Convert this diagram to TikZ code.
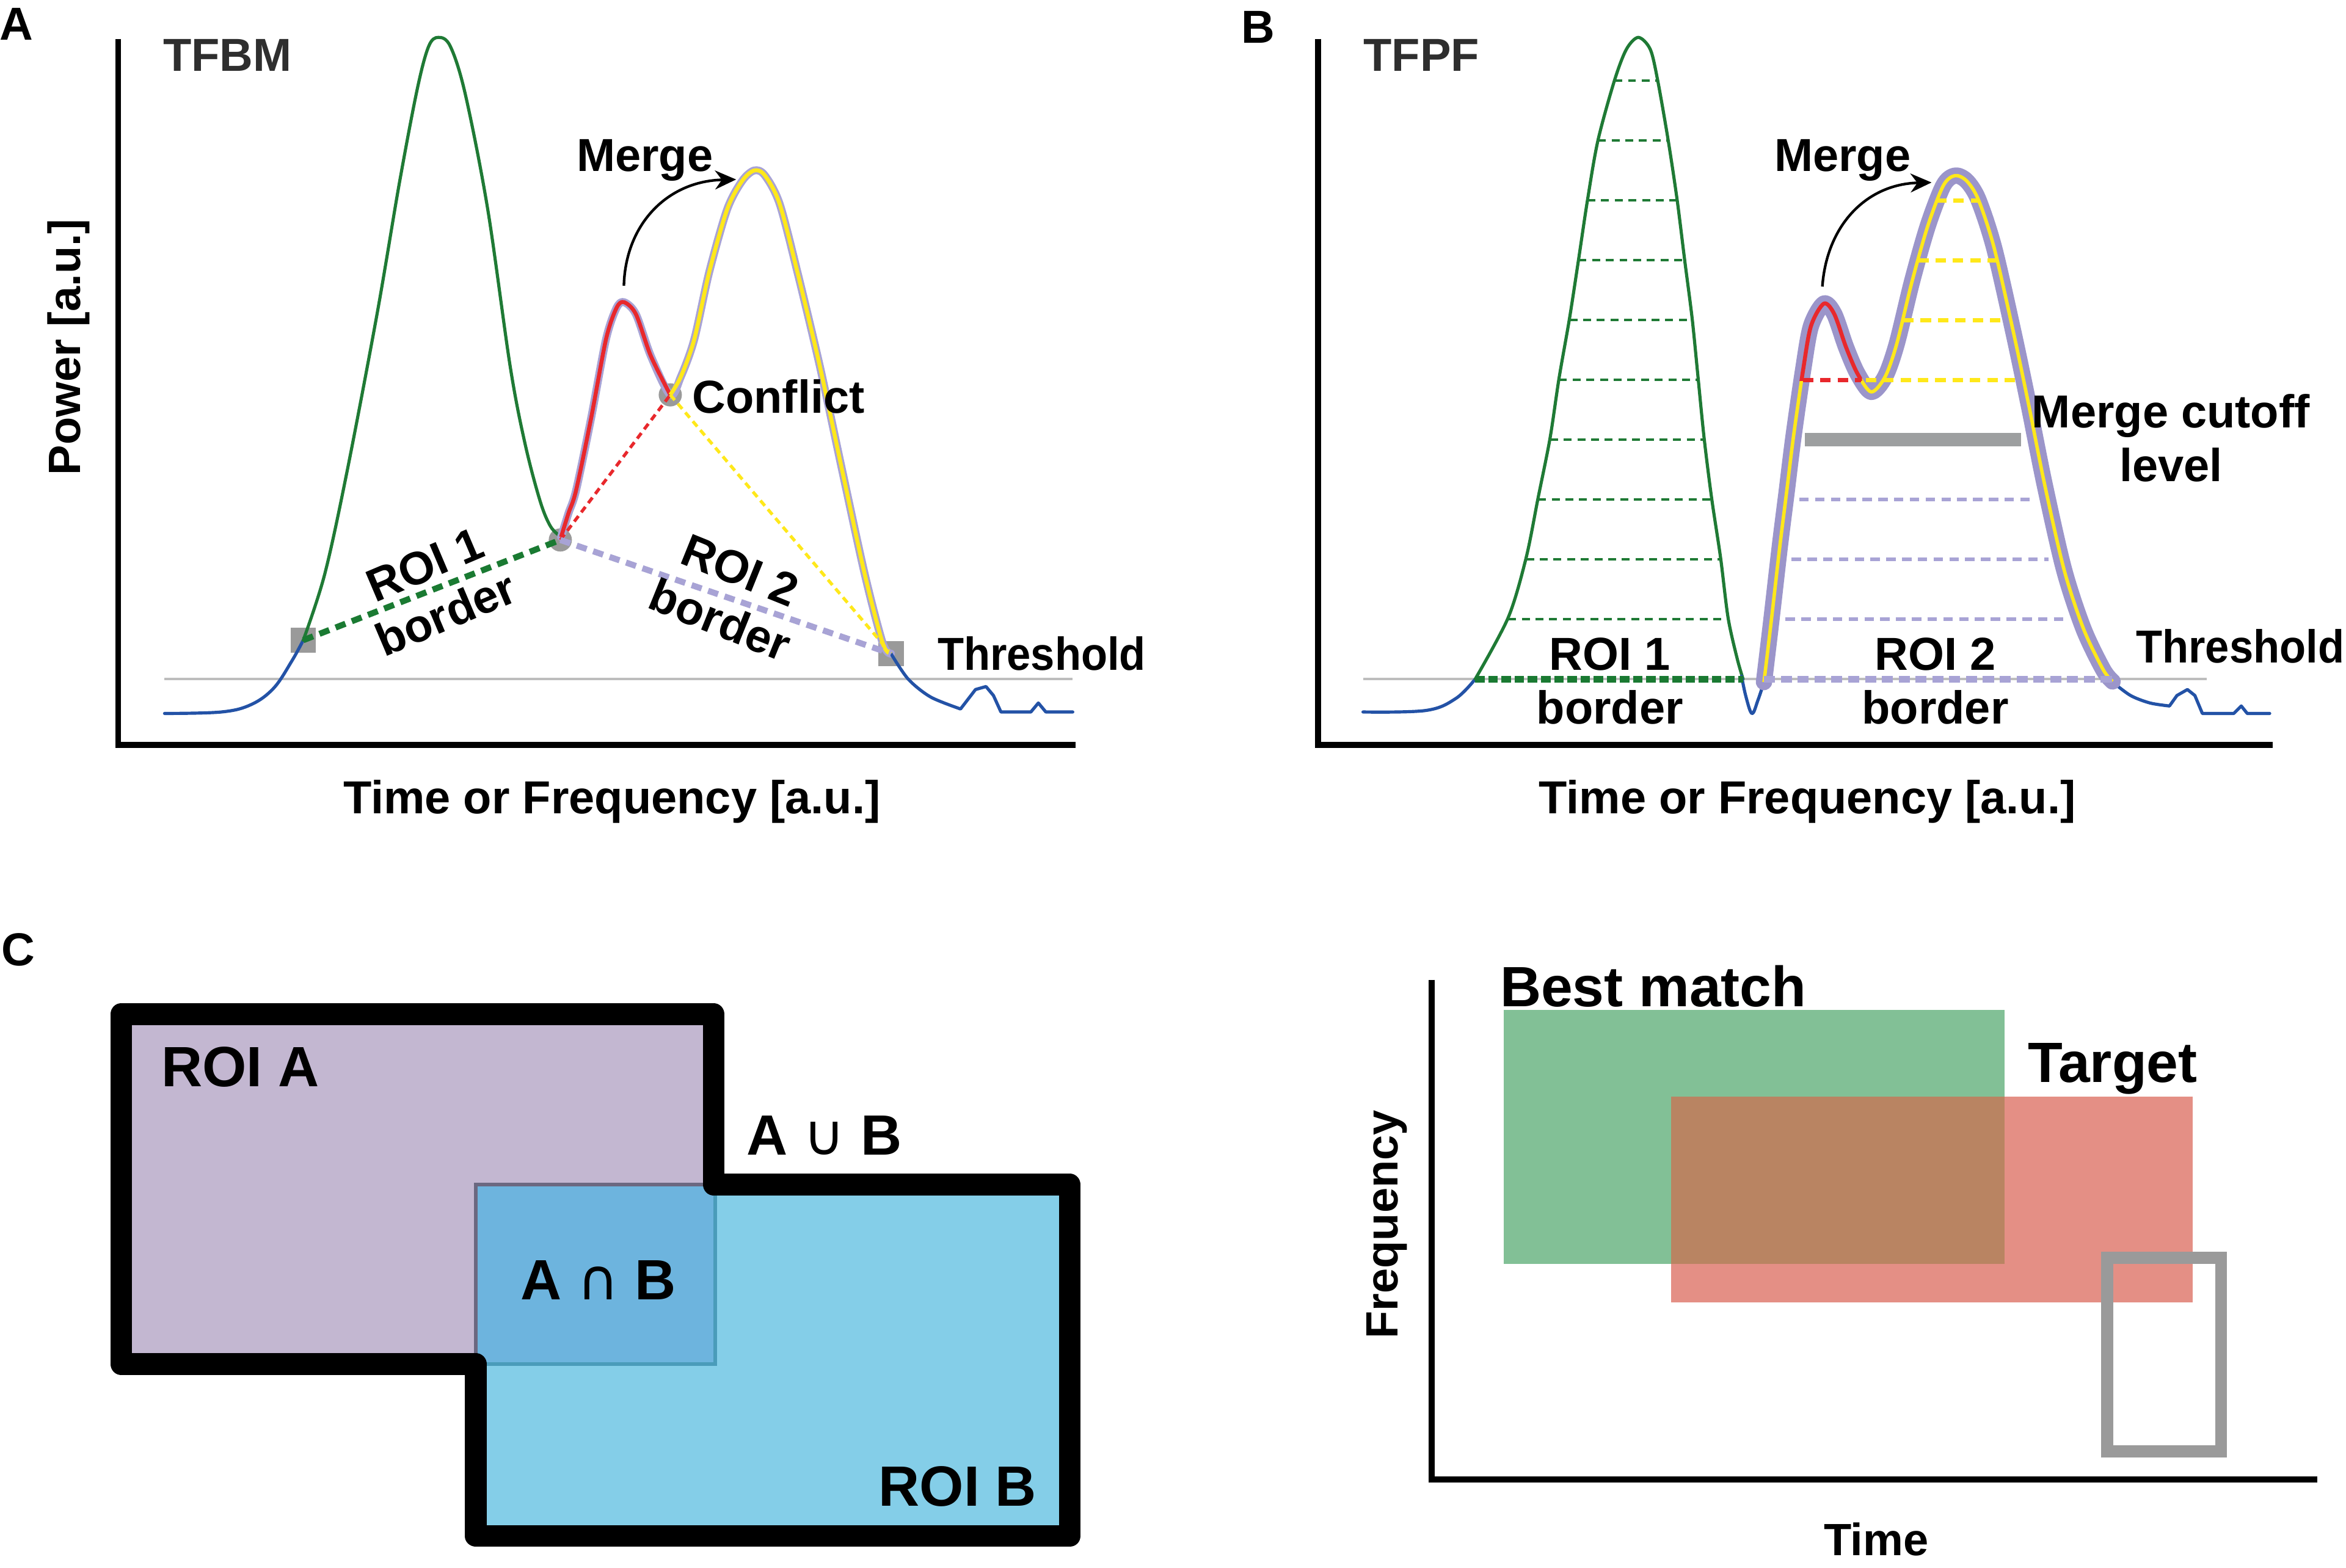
\documentclass[tikz,border=0pt]{standalone}
\usepackage{fontspec}
\setmainfont{Liberation Sans}
\newfontfamily\symfont{DejaVu Sans}
\usetikzlibrary{arrows.meta}
\definecolor{cgreen}{HTML}{1F7A35}
\definecolor{cgreend}{HTML}{1A7A32}
\definecolor{cblue}{HTML}{2352A6}
\definecolor{cred}{HTML}{E8282C}
\definecolor{cyellow}{HTML}{FFE81A}
\definecolor{clav}{HTML}{A8A3D5}
\definecolor{cband}{HTML}{9B95CA}
\definecolor{cgray}{HTML}{9A9A9A}
\definecolor{ccut}{HTML}{9D9FA0}
\definecolor{cthr}{HTML}{BDBDBD}
\definecolor{croiA}{HTML}{C3B7D1}
\definecolor{croiB}{HTML}{84CEE8}
\definecolor{cinter}{HTML}{6DB4DE}
\definecolor{cedgeA}{HTML}{6B6880}
\definecolor{cedgeB}{HTML}{4A9CBA}
\definecolor{cbest}{HTML}{82C096}
\definecolor{ctarget}{HTML}{E48F85}
\definecolor{cover}{HTML}{B98462}
\definecolor{ctitle}{HTML}{2E2E2E}
\newcommand{\thrword}{\scalebox{0.93}[1]{Threshold}}
\begin{document}
\begin{tikzpicture}[x=0.01cm,y=-0.01cm,
  txt/.style={inner sep=0pt, font=\fontsize{8.8}{10.5}\selectfont\bfseries},
  bigtxt/.style={inner sep=0pt, font=\fontsize{10.8}{13}\selectfont\bfseries},
  axlbl/.style={inner sep=0pt, font=\fontsize{8.6}{10}\selectfont\bfseries},
  axisline/.style={line width=1.15pt},
  crv/.style={line width=0.6pt, line join=round, line cap=round},
  mksq/.style={rectangle, fill=cgray, draw=none, minimum size=0.17cm, inner sep=0pt},
  mkci/.style={circle, fill=cgray, draw=none, minimum size=0.155cm, inner sep=0pt},
  bordA/.style={line width=1.15pt, dash pattern=on 2pt off 1.3pt},
  dotl/.style={line width=0.6pt, dash pattern=on 1.3pt off 0.9pt},
  lvlG/.style={line width=0.45pt, cgreen, dash pattern=on 1.5pt off 1.1pt},
  lvlY/.style={line width=0.85pt, cyellow, dash pattern=on 2pt off 1.3pt},
  lvlR/.style={line width=0.85pt, cred, dash pattern=on 2pt off 1.3pt},
  lvlL/.style={line width=0.7pt, clav, dash pattern=on 1.8pt off 1.2pt},
  bordB1/.style={line width=1.25pt, cgreend, dash pattern=on 1.8pt off 0.7pt},
  bordB2/.style={line width=1.25pt, clav, dash pattern=on 2.1pt off 1.1pt},
  mergearrow/.style={line width=0.5pt, -{Stealth[length=4pt,width=3.6pt]}},
  twoline/.style={txt, align=center, font=\fontsize{8.8}{10.2}\selectfont\bfseries}
]
\useasboundingbox (0,0) rectangle (1568,1048);

% ================= Panel A =================
\node[txt] (labA) at (11,16) {A};
\node[txt, text=ctitle] (tfbm) at (152,37) {TFBM};
\draw[axisline] (79,26) -- (79,498) -- (719,498);
\node[axlbl, rotate=90] (powA) at (46,232) {Power [a.u.]};
\node[txt] (xA) at (409,536) {Time or Frequency [a.u.]};
\draw[line width=0.45pt, cthr] (110,454) -- (717,454);

\node[mksq] (sqA1) at (202.7,428) {};
\node[mksq] (sqA2) at (595.5,437) {};
\node[mkci] (ciA1) at (374.5,361) {};
\node[mkci] (ciA2) at (448,264) {};

\draw[crv, cblue] plot[smooth, tension=0.6] coordinates {(110,477) (148,476) (168,471) (183,460) (195,442) (202.7,428)};
\draw[crv, cgreen] plot[smooth, tension=0.55] coordinates {(202.7,428) (217,384) (232,315) (252,210) (267,122) (279,59) (286.5,31) (293,25) (301,31) (311,63) (326,140) (341,245) (351,297) (361,335) (368,352) (375,359)};
\draw[line width=1.5pt, clav, line join=round, line cap=round] plot[smooth, tension=0.5] coordinates {(375,359) (380,343) (385,328) (395,280) (405,227) (412,206) (417,202) (425,210) (435,238) (448,264) (455,252) (464,227) (474,182) (486,140) (496,121) (504,114) (511,117) (521,136) (533,182) (548,245) (563,315) (578,384) (590,430) (595.5,437)};
\draw[line width=0.75pt, cred, line join=round] plot[smooth, tension=0.5] coordinates {(375,359) (380,343) (385,328) (395,280) (405,227) (412,206) (417,202) (425,210) (435,238) (448,264)};
\draw[line width=0.75pt, cyellow, line join=round] plot[smooth, tension=0.5] coordinates {(448,264) (455,252) (464,227) (474,182) (486,140) (496,121) (504,114) (511,117) (521,136) (533,182) (548,245) (563,315) (578,384) (590,430) (595.5,437)};
\draw[crv, cblue] plot[smooth, tension=0.5] coordinates {(595.5,437) (607,454) (622,466) (642,474)} -- (652,461) -- (659,459) -- (664,465) -- (669,476) -- (689,476) -- (694,470) -- (699,476) -- (717,476);

\draw[dotl, cred] (ciA1.center) -- (ciA2.center);
\draw[dotl, cyellow] (ciA2.center) -- (sqA2.center);
\draw[bordA, cgreend] (sqA1.center) -- (ciA1.center);
\draw[bordA, clav] (ciA1.center) -- (sqA2.center);

\coordinate (mgA1) at (417,191);
\coordinate (mgA2) at (492,120);
\draw[mergearrow] (mgA1) .. controls (418,150) and (446,121) .. (mgA2);
\node[txt] (mergeA) at (431,107) {Merge};
\node[txt, anchor=west] (confA) at (462,265) {Conflict};
\node[txt, anchor=west] (thrA) at (626,437) {\thrword};
\node[twoline, rotate=23] (roi1A) at (291,394) {ROI 1\\border};
\node[twoline, rotate=-22] (roi2A) at (488,398) {ROI 2\\border};

% ================= Panel B =================
\node[txt] (labB) at (841,18) {B};
\node[txt, text=ctitle] (tfpf) at (950,37) {TFPF};
\draw[axisline] (881,26) -- (881,498) -- (1519,498);
\node[txt] (xB) at (1208,536) {Time or Frequency [a.u.]};
\draw[line width=0.45pt, cthr] (911,454) -- (1475,454);

\coordinate (b1L) at (986,454);
\coordinate (b1R) at (1165,454);
\coordinate (b2L) at (1179,454);
\coordinate (b2R) at (1412,454);

\draw[crv, cblue] plot[smooth, tension=0.6] coordinates {(911,476) (953,475) (973,467) (986,454)};
\draw[crv, cgreen] plot[smooth, tension=0.5] coordinates {(986,454) (1008,413) (1020,373) (1028,333) (1036,293) (1042,253) (1049,213) (1055,174) (1061,134) (1068,94) (1079,54) (1087,33) (1095,25) (1103,33) (1108,54) (1115,94) (1121,134) (1126,174) (1131,213) (1135,253) (1139,293) (1144,333) (1150,373) (1155,413) (1161,440) (1165,454)};
\draw[crv, cblue] plot[smooth, tension=0.6] coordinates {(1164,452) (1167,466) (1171,477) (1175,468) (1179,456)};
\draw[crv, cblue] plot[smooth, tension=0.5] coordinates {(1412,456) (1424,465) (1437,470) (1450,472)} -- (1455,465) -- (1462,461) -- (1467,465) -- (1472,477) -- (1493,477) -- (1498,472) -- (1502,477) -- (1517,477);

\foreach \yy/\xl/\xr in {54/1079/1108, 94/1068/1115, 134/1061/1121, 174/1055/1126, 214/1049/1131, 254/1042/1135, 294/1036/1139, 334/1028/1144, 374/1020/1150, 414/1008/1155}
  \draw[lvlG] (\xl,\yy) -- (\xr,\yy);

\draw[bordB1] (b1L) -- (b1R);

\draw[line width=3.1pt, cband, line cap=round, line join=round] plot[smooth, tension=0.5] coordinates {(1179,456) (1184,414) (1189.5,366) (1194,330) (1198.7,292) (1205.2,247) (1210.4,218) (1219,203) (1226,210) (1233.8,232) (1241.6,250) (1250.7,262) (1259.9,252) (1267.7,230) (1278,188) (1288.5,151) (1298.9,124) (1306.7,117.4) (1314.5,121) (1322.3,133.5) (1332.8,165.6) (1345.8,222.5) (1356.2,272) (1366.6,324) (1379.6,381) (1392.6,420.5) (1405.7,447.7) (1412,455.6)};
\draw[line width=0.65pt, cyellow, line join=round] plot[smooth, tension=0.5] coordinates {(1179,456) (1184,414) (1189.5,366) (1194,330) (1198.7,292) (1205.2,247) (1210.4,218) (1219,203) (1226,210) (1233.8,232) (1241.6,250) (1250.7,262) (1259.9,252) (1267.7,230) (1278,188) (1288.5,151) (1298.9,124) (1306.7,117.4) (1314.5,121) (1322.3,133.5) (1332.8,165.6) (1345.8,222.5) (1356.2,272) (1366.6,324) (1379.6,381) (1392.6,420.5) (1405.7,447.7) (1412,455.6)};
\begin{scope}
  \clip (1185,185) rectangle (1244.5,254.5);
  \draw[line width=0.75pt, cred, line join=round] plot[smooth, tension=0.5] coordinates {(1194,330) (1198.7,292) (1205.2,247) (1210.4,218) (1219,203) (1226,210) (1233.8,232) (1241.6,250) (1250.7,262) (1259.9,252)};
\end{scope}

\foreach \yy/\xl/\xr in {134/1294/1322, 174/1282/1334, 214/1272/1337, 254/1247/1348}
  \draw[lvlY] (\xl,\yy) -- (\xr,\yy);
\draw[lvlR] (1205,254) -- (1244,254);
\draw[line width=2.5pt, ccut] (1206.5,294) -- (1351,294);
\foreach \yy/\xl/\xr in {334/1202.6/1357.5, 374/1197.4/1369, 414/1193.4/1381}
  \draw[lvlL] (\xl,\yy) -- (\xr,\yy);
\draw[bordB2] (b2L) -- (b2R);

\coordinate (mgB1) at (1218,191.6);
\coordinate (mgB2) at (1291,122);
\draw[mergearrow] (mgB1) .. controls (1221,150) and (1248,123) .. (mgB2);
\node[txt] (mergeB) at (1231.5,107) {Merge};
\node[twoline] (cutB) at (1451,293) {Merge cutoff\\level};
\node[txt, anchor=west] (thrB) at (1427,432) {\thrword};
\node[twoline] (roi1B) at (1076,455.5) {ROI 1\\border};
\node[twoline] (roi2B) at (1293.5,455.5) {ROI 2\\border};

% ================= Panel C left =================
\node[txt] (labC) at (12,635) {C};
\fill[croiA] (81,678) rectangle (477,912);
\fill[croiB] (318,792) rectangle (715,1027);
\fill[cinter] (318,792) rectangle (478,912);
\draw[cedgeB, line width=0.75pt] (478,792) -- (478,912) -- (318,912);
\draw[cedgeA, line width=0.75pt] (318,912) -- (318,792) -- (478,792);
\draw[line width=4.1pt, line join=round] (81,678) -- (477,678) -- (477,792) -- (715,792) -- (715,1027) -- (318,1027) -- (318,912) -- (81,912) -- cycle;
\node[bigtxt] (roiA) at (160.7,713.5) {ROI A};
\node[bigtxt] (union) at (551,759) {A {\symfont\mdseries ∪} B};
\node[bigtxt] (inter) at (400,856) {A {\symfont\mdseries ∩} B};
\node[bigtxt] (roiB) at (640,994) {ROI B};

% ================= Panel C right =================
\draw[axisline] (957,655) -- (957,989) -- (1549,989);
\fill[cbest] (1005,675) rectangle (1340,845);
\fill[ctarget] (1117,733) rectangle (1465.6,870.6);
\fill[cover] (1117,733) rectangle (1340,845);
\draw[cgray, line width=2.3pt] (1408.3,841) rectangle (1484.5,970.5);
\node[bigtxt] (best) at (1105,659.5) {Best match};
\node[bigtxt] (target) at (1412,714.6) {Target};
\node[axlbl, rotate=90] (freq) at (927,818.6) {Frequency};
\node[axlbl] (time) at (1254,1029) {Time};
\end{tikzpicture}
\end{document}
